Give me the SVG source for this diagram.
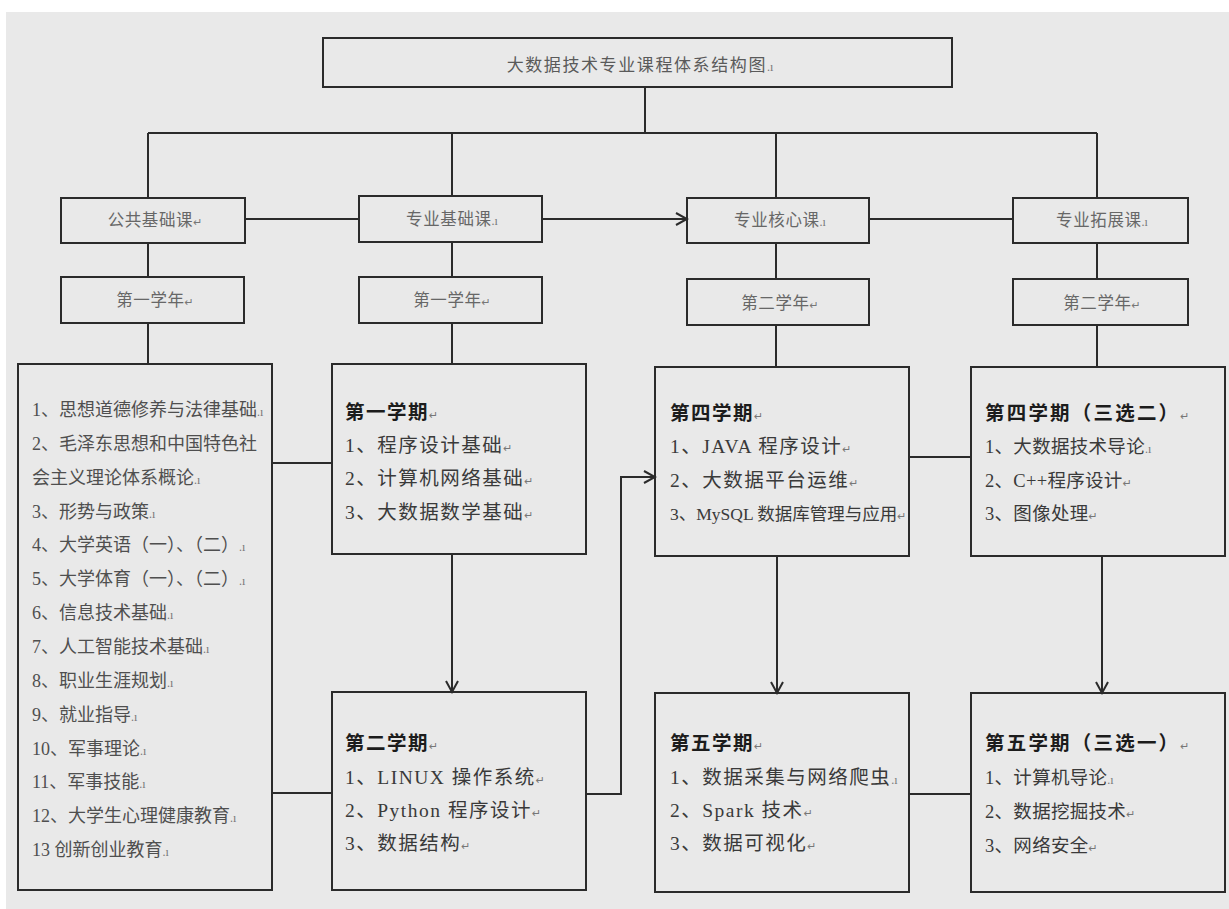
<svg xmlns="http://www.w3.org/2000/svg" width="1229" height="909" viewBox="0 0 1229 909">
<style>
.bx{fill:none;stroke:#2b2b2b;stroke-width:2}
.ln{fill:none;stroke:#2b2b2b;stroke-width:2}
text{font-family:"Liberation Serif","Noto Sans CJK SC",serif}
.cat{font-size:16.5px;fill:#676767;text-anchor:middle;letter-spacing:0.6px}
.ttl{font-size:17px;fill:#5a5a5a;text-anchor:middle;letter-spacing:1.6px}
.itm{font-size:19.5px;fill:#3a3a3a;letter-spacing:1.5px}
.hd{font-weight:bold;fill:#1c1c1c}
.hd2{letter-spacing:2.2px}
.sm{font-size:18.5px;letter-spacing:0.3px}
.nar{font-size:17.5px;letter-spacing:0px}
.lst{font-size:18px;fill:#4f4f4f;letter-spacing:0px}
.pm{font-family:"DejaVu Sans",sans-serif;font-size:11px;fill:#777;letter-spacing:0px;font-weight:normal}
.dm{font-size:12px;fill:#777;letter-spacing:0px;font-weight:normal}
</style>
<defs>
<marker id="ah" markerWidth="14" markerHeight="14" refX="12" refY="7" orient="auto" markerUnits="userSpaceOnUse">
<path d="M1,1 L12,7 L1,13" fill="none" stroke="#2b2b2b" stroke-width="2"/>
</marker>
</defs>
<rect x="0" y="0" width="1229" height="909" fill="#ffffff"/>
<rect x="6" y="12" width="1223" height="897" fill="#e9e9e9"/>

<g id="connectors">
<path class="ln" d="M645,87 V133 M148,133 H1097 M148,133 V198 M452,133 V196 M776,133 V198 M1097,133 V198"/>
<path class="ln" d="M245,219 H359 M869,219 H1013"/>
<path class="ln" d="M542,219 H687" marker-end="url(#ah)"/>
<path class="ln" d="M148,243 V277 M452,242 V277 M776,243 V279 M1097,243 V279"/>
<path class="ln" d="M148,323 V364 M452,323 V364 M776,325 V367 M1097,325 V367"/>
<path class="ln" d="M272,463 H332 M272,793 H332"/>
<path class="ln" d="M452,554 V692" marker-end="url(#ah)"/>
<path class="ln" d="M586,794 H621 V477 H655" marker-end="url(#ah)"/>
<path class="ln" d="M909,457 H971 M909,794 H971"/>
<path class="ln" d="M777,556 V693" marker-end="url(#ah)"/>
<path class="ln" d="M1102,556 V693" marker-end="url(#ah)"/>
</g>

<g id="title">
<rect class="bx" x="323" y="38" width="629" height="49" stroke-width="2.5"/>
<text class="ttl" x="640" y="71">大数据技术专业课程体系结构图<tspan class="dm">.ı</tspan></text>
</g>

<g id="gonggong">
<rect class="bx" x="61" y="198" width="184" height="45"/>
<text class="cat" x="155" y="226">公共基础课<tspan class="pm">↵</tspan></text>
</g>
<g id="zhuanye-jichu">
<rect class="bx" x="359" y="196" width="183" height="46"/>
<text class="cat" x="452" y="225">专业基础课<tspan class="dm">.ı</tspan></text>
</g>
<g id="zhuanye-hexin">
<rect class="bx" x="687" y="198" width="182" height="45"/>
<text class="cat" x="780" y="226">专业核心课<tspan class="dm">.ı</tspan></text>
</g>
<g id="zhuanye-tuozhan">
<rect class="bx" x="1013" y="198" width="175" height="45"/>
<text class="cat" x="1102" y="226">专业拓展课<tspan class="dm">.ı</tspan></text>
</g>

<g id="year-gonggong">
<rect class="bx" x="61" y="277" width="183" height="46"/>
<text class="cat" x="155" y="306">第一学年<tspan class="pm">↵</tspan></text>
</g>
<g id="year-jichu">
<rect class="bx" x="359" y="277" width="183" height="46"/>
<text class="cat" x="452" y="306">第一学年<tspan class="pm">↵</tspan></text>
</g>
<g id="year-hexin">
<rect class="bx" x="687" y="279" width="182" height="46"/>
<text class="cat" x="780" y="309">第二学年<tspan class="pm">↵</tspan></text>
</g>
<g id="year-tuozhan">
<rect class="bx" x="1013" y="279" width="175" height="46"/>
<text class="cat" x="1102" y="309">第二学年<tspan class="pm">↵</tspan></text>
</g>

<g id="gonggong-list">
<rect class="bx" x="18" y="364" width="254" height="526"/>
<text class="lst" x="32" y="416">1、思想道德修养与法律基础<tspan class="dm">.ı</tspan></text>
<text class="lst" x="32" y="450">2、毛泽东思想和中国特色社</text>
<text class="lst" x="32" y="484">会主义理论体系概论<tspan class="dm">.ı</tspan></text>
<text class="lst" x="32" y="518">3、形势与政策<tspan class="dm">.ı</tspan></text>
<text class="lst" x="32" y="551">4、大学英语（一）、（二）<tspan class="dm">.ı</tspan></text>
<text class="lst" x="32" y="585">5、大学体育（一）、（二）<tspan class="dm">.ı</tspan></text>
<text class="lst" x="32" y="619">6、信息技术基础<tspan class="dm">.ı</tspan></text>
<text class="lst" x="32" y="653">7、人工智能技术基础<tspan class="dm">.ı</tspan></text>
<text class="lst" x="32" y="687">8、职业生涯规划<tspan class="dm">.ı</tspan></text>
<text class="lst" x="32" y="721">9、就业指导<tspan class="dm">.ı</tspan></text>
<text class="lst" x="32" y="755">10、军事理论<tspan class="dm">.ı</tspan></text>
<text class="lst" x="32" y="788">11、军事技能<tspan class="dm">.ı</tspan></text>
<text class="lst" x="32" y="822">12、大学生心理健康教育<tspan class="dm">.ı</tspan></text>
<text class="lst" x="32" y="856">13 创新创业教育<tspan class="dm">.ı</tspan></text>
</g>

<g id="term1">
<rect class="bx" x="332" y="364" width="254" height="190"/>
<text class="itm hd" x="345" y="419">第一学期<tspan class="pm">↵</tspan></text>
<text class="itm" x="345" y="452">1、程序设计基础<tspan class="pm">↵</tspan></text>
<text class="itm" x="345" y="485">2、计算机网络基础<tspan class="pm">↵</tspan></text>
<text class="itm" x="345" y="519">3、大数据数学基础<tspan class="pm">↵</tspan></text>
</g>

<g id="term2">
<rect class="bx" x="332" y="692" width="254" height="198"/>
<text class="itm hd" x="345" y="750">第二学期<tspan class="pm">↵</tspan></text>
<text class="itm" x="345" y="784">1、LINUX 操作系统<tspan class="pm">↵</tspan></text>
<text class="itm" x="345" y="817">2、Python 程序设计<tspan class="pm">↵</tspan></text>
<text class="itm" x="345" y="850">3、数据结构<tspan class="pm">↵</tspan></text>
</g>

<g id="term4">
<rect class="bx" x="655" y="367" width="254" height="189"/>
<text class="itm hd" x="670" y="420">第四学期<tspan class="pm">↵</tspan></text>
<text class="itm" x="670" y="453">1、JAVA 程序设计<tspan class="pm">↵</tspan></text>
<text class="itm" x="670" y="487">2、大数据平台运维<tspan class="pm">↵</tspan></text>
<text class="itm nar" x="670" y="520">3、MySQL 数据库管理与应用<tspan class="pm">↵</tspan></text>
</g>

<g id="term5">
<rect class="bx" x="655" y="693" width="254" height="199"/>
<text class="itm hd" x="670" y="750">第五学期<tspan class="pm">↵</tspan></text>
<text class="itm" x="670" y="784">1、数据采集与网络爬虫<tspan class="dm">.ı</tspan></text>
<text class="itm" x="670" y="817">2、Spark 技术<tspan class="pm">↵</tspan></text>
<text class="itm" x="670" y="850">3、数据可视化<tspan class="pm">↵</tspan></text>
</g>

<g id="term4-elective">
<rect class="bx" x="971" y="367" width="254" height="189"/>
<text class="itm hd hd2" x="985" y="420">第四学期（三选二）<tspan class="pm">↵</tspan></text>
<text class="itm sm" x="985" y="453">1、大数据技术导论<tspan class="dm">.ı</tspan></text>
<text class="itm sm" x="985" y="487">2、C++程序设计<tspan class="pm">↵</tspan></text>
<text class="itm sm" x="985" y="520">3、图像处理<tspan class="pm">↵</tspan></text>
</g>

<g id="term5-elective">
<rect class="bx" x="971" y="693" width="254" height="199"/>
<text class="itm hd hd2" x="985" y="750">第五学期（三选一）<tspan class="pm">↵</tspan></text>
<text class="itm sm" x="985" y="784">1、计算机导论<tspan class="dm">.ı</tspan></text>
<text class="itm sm" x="985" y="818">2、数据挖掘技术<tspan class="pm">↵</tspan></text>
<text class="itm sm" x="985" y="852">3、网络安全<tspan class="pm">↵</tspan></text>
</g>
</svg>
